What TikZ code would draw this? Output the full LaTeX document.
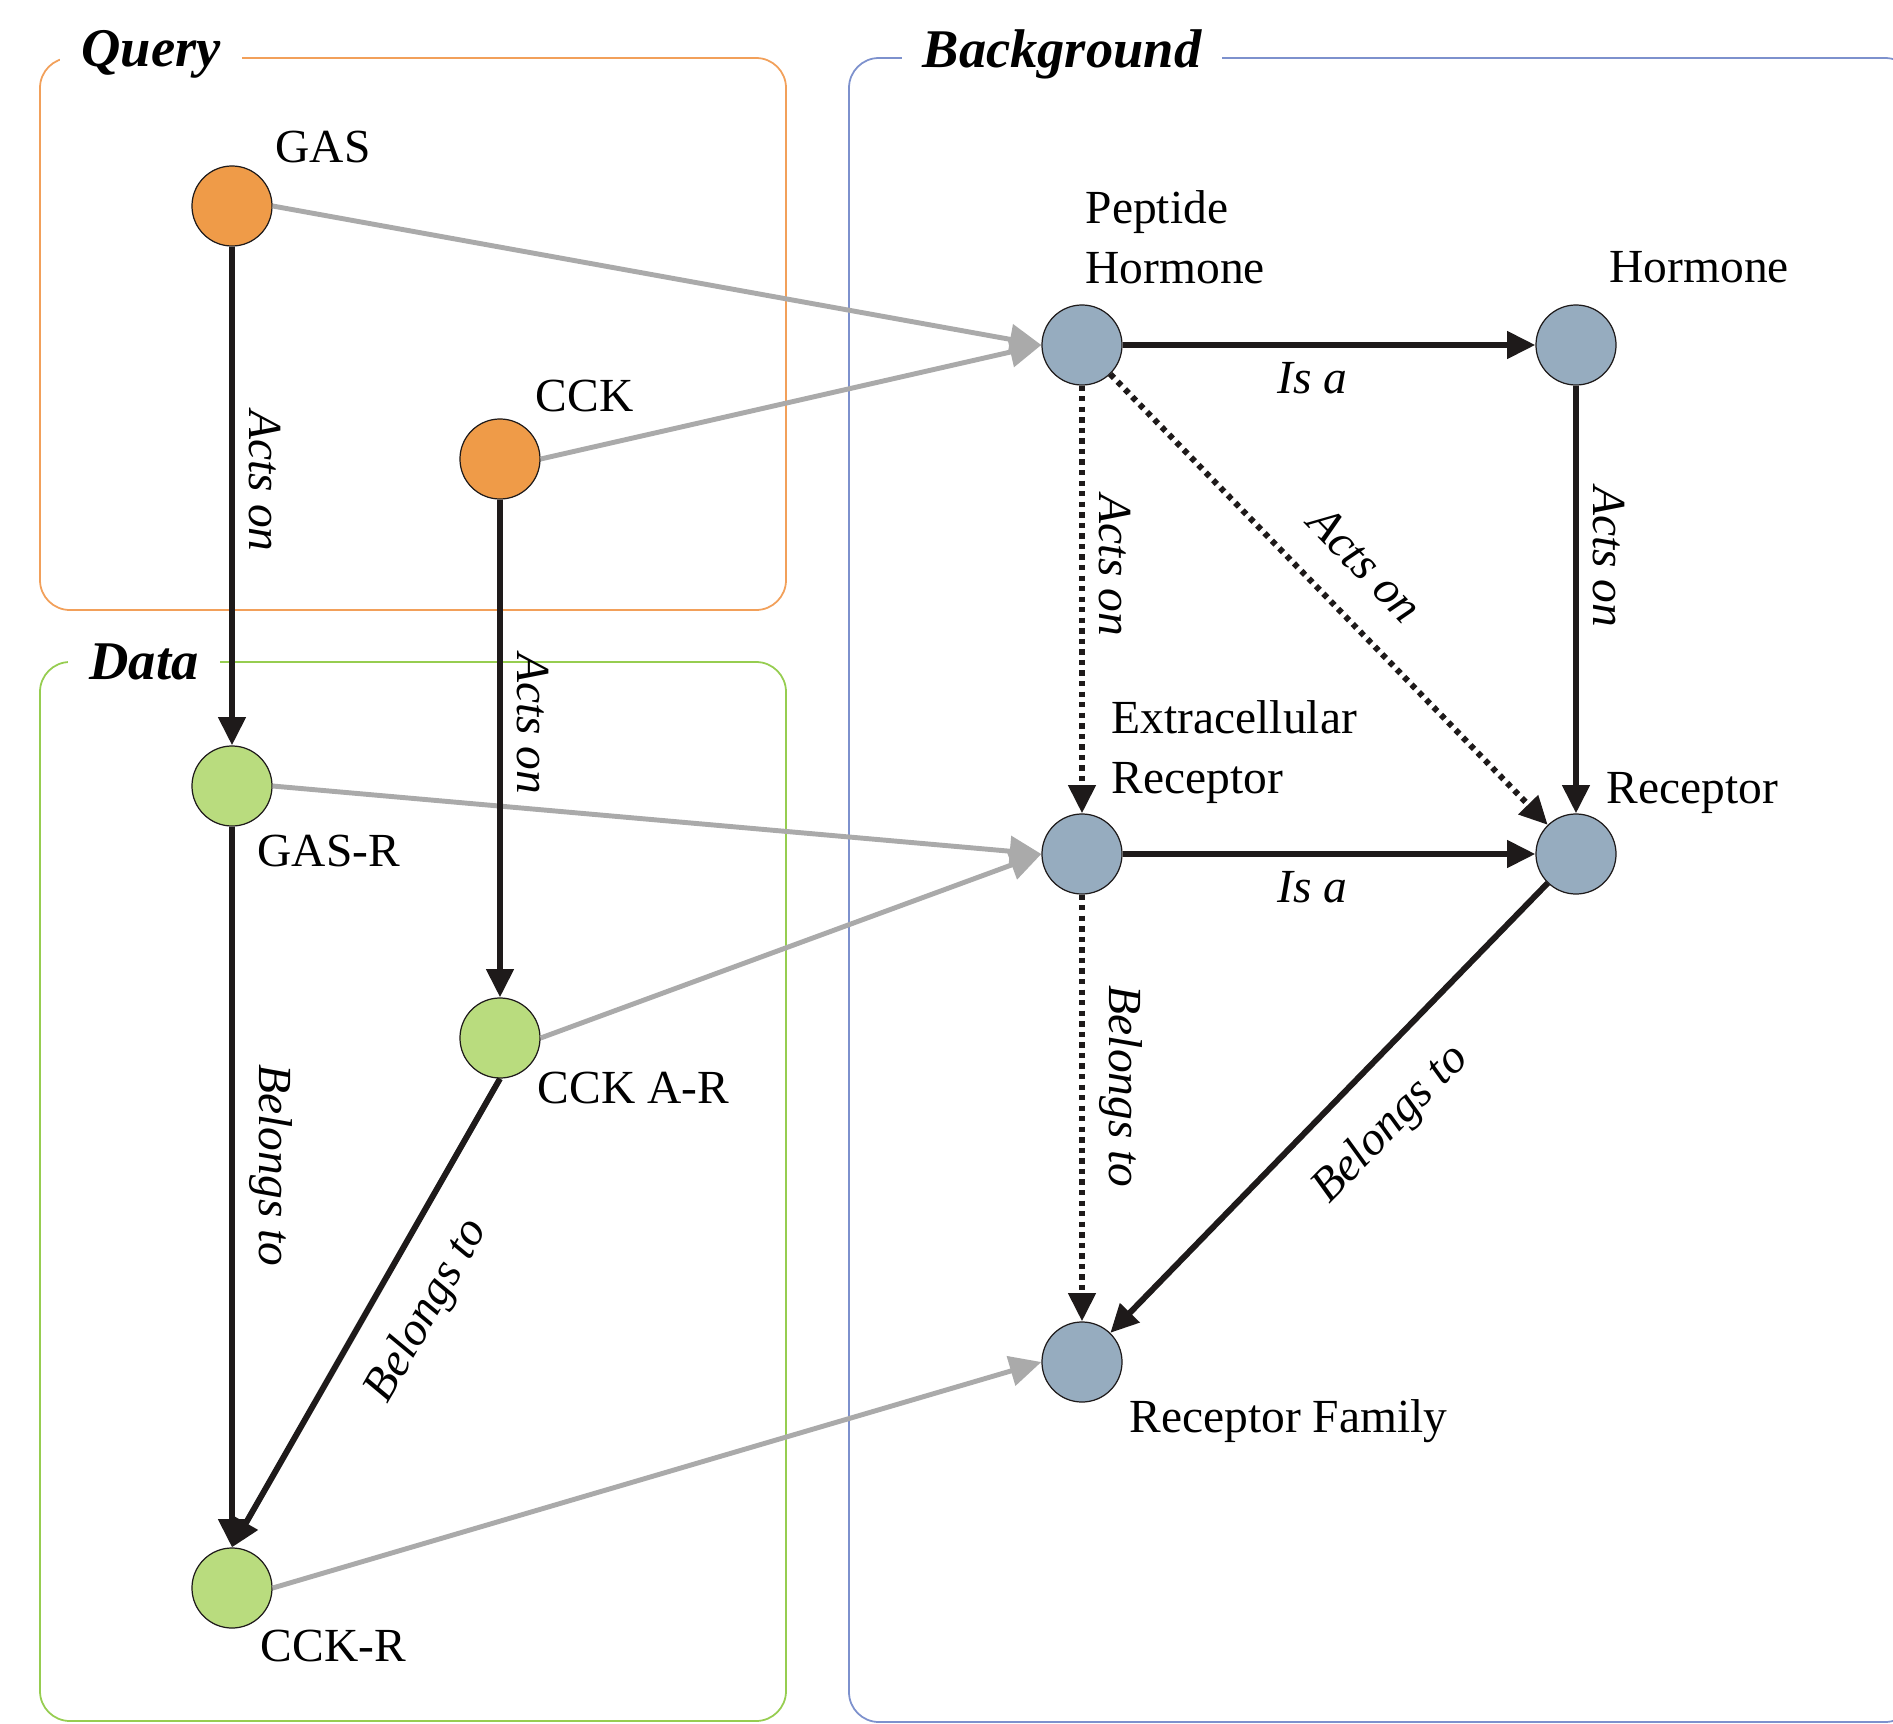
\documentclass[tikz,border=0pt]{standalone}
\usepackage{fontspec}
\setmainfont{Liberation Serif}
\usetikzlibrary{arrows.meta,positioning}

\definecolor{queryfill}{RGB}{239,155,72}
\definecolor{datafill}{RGB}{185,220,126}
\definecolor{bgfill}{RGB}{150,172,191}
\definecolor{queryline}{RGB}{242,160,90}
\definecolor{dataline}{RGB}{150,205,80}
\definecolor{bgline}{RGB}{125,145,205}
\definecolor{relblack}{RGB}{30,26,26}
\definecolor{linkgrey}{RGB}{170,170,170}

\tikzset{
        concept/.style={ % Sets the properties for each concept
            circle, draw=relblack, line width=0.35pt,
            minimum size=0.8cm, inner sep=0pt},
        querynode/.style={concept, fill=queryfill},
        datanode/.style={concept, fill=datafill},
        bgnode/.style={concept, fill=bgfill},
        tag/.style={ % Text next to a concept
            font=\fontsize{13.5}{17}\selectfont, align=left, inner sep=0pt, anchor=west},
        frametitle/.style={ % Heading of a frame, cuts the frame line
            font=\fontsize{15.5}{18}\selectfont\bfseries\itshape,
            fill=white, inner xsep=6pt, inner ysep=1pt},
        framebox/.style={line width=0.5pt, rounded corners=8.5pt},
        rel/.style={ % Relation between two concepts
            draw=relblack, line width=1.7pt,
            -{Triangle[length=8pt,width=7.5pt]}},
        weak/.style={rel, dash pattern=on 1.5pt off 1.5pt},
        link/.style={ % Grey mapping onto the background
            draw=linkgrey, line width=1.4pt,
            -{Triangle[length=9pt,width=8.5pt]}},
        lab/.style={font=\fontsize{13.5}{17}\selectfont\itshape, sloped, inner sep=4pt}
        }

\begin{document}
\begin{tikzpicture}[x=0.01cm, y=-0.01cm]
    \clip (0,0) rectangle (1893,1724);
    \fill[white] (0,0) rectangle (1893,1724);

    % frames
    \draw[framebox, draw=queryline] (40,58) rectangle (786,610);
    \draw[framebox, draw=dataline]  (40,662) rectangle (786,1721);
    \draw[framebox, draw=bgline]    (849,58) rectangle (1915,1722);
    \node[frametitle] (querytitle) at (151,54) {Query};
    \node[frametitle] (datatitle) at (144,662) {Data};
    \node[frametitle] (bgtitle) at (1062,54) {Background};

    % concepts
    \node[querynode] (gas)  at (232,206)  {};
    \node[querynode] (cck)  at (500,459)  {};
    \node[datanode]  (gasr) at (232,786)  {};
    \node[datanode]  (cckar) at (500,1038) {};
    \node[datanode]  (cckr) at (232,1588) {};
    \node[bgnode]    (peptide)  at (1082,345)  {};
    \node[bgnode]    (hormone)  at (1576,345)  {};
    \node[bgnode]    (extra)    at (1082,854)  {};
    \node[bgnode]    (receptor) at (1576,854)  {};
    \node[bgnode]    (family)   at (1082,1362) {};

    \node[tag] (gastag)   at (275,147)  {GAS};
    \node[tag] (ccktag)   at (535,396)  {CCK};
    \node[tag] (gasrtag)  at (257,851)  {GAS-R};
    \node[tag] (cckartag) at (537,1088) {CCK A-R};
    \node[tag] (cckrtag)  at (260,1646) {CCK-R};
    \node[tag] (peptidetag)  at (1085,237)  {Peptide\\Hormone};
    \node[tag] (hormonetag)  at (1609,267)  {Hormone};
    \node[tag] (extratag)    at (1111,752)  {Extracellular\\Receptor};
    \node[tag] (receptortag) at (1606,793)  {Receptor};
    \node[tag] (familytag)   at (1129,1421) {Receptor Family};

    % grey links
    \draw[link] (gas.east)   -- (peptide.west);
    \draw[link] (cck.east)   -- (peptide.west);
    \draw[link] (gasr.east)  -- (extra.west);
    \draw[link] (cckar.east) -- (extra.west);
    \draw[link] (cckr.east)  -- (family.west);

    % relations
    \draw[rel] (gas.south) -- node[lab, above, pos=0.47] {Acts on} (gasr.north);
    \draw[rel] (cck.south) -- node[lab, above, pos=0.45] {Acts on} (cckar.north);
    \draw[rel] (gasr.south) -- node[lab, above, pos=0.47] {Belongs to} (cckr.north);
    \draw[rel] (cckar.south) -- node[lab, below, pos=0.44, inner sep=8pt] {Belongs to} (cckr.north);
    \draw[rel] (peptide.east) -- node[lab, below, pos=0.46] {Is a} (hormone.west);
    \draw[weak] (peptide.south) -- node[lab, above, pos=0.42] {Acts on} (extra.north);
    \draw[weak] (peptide) -- node[lab, above, pos=0.5, inner sep=9pt] {Acts on} (receptor);
    \draw[rel] (hormone.south) -- node[lab, above, pos=0.4] {Acts on} (receptor.north);
    \draw[rel] (extra.east) -- node[lab, below, pos=0.46] {Is a} (receptor.west);
    \draw[weak] (extra.south) -- node[lab, above, pos=0.45] {Belongs to} (family.north);
    \draw[rel] (receptor) -- node[lab, below, pos=0.45, inner sep=9pt] {Belongs to} (family);
\end{tikzpicture}
\end{document}
